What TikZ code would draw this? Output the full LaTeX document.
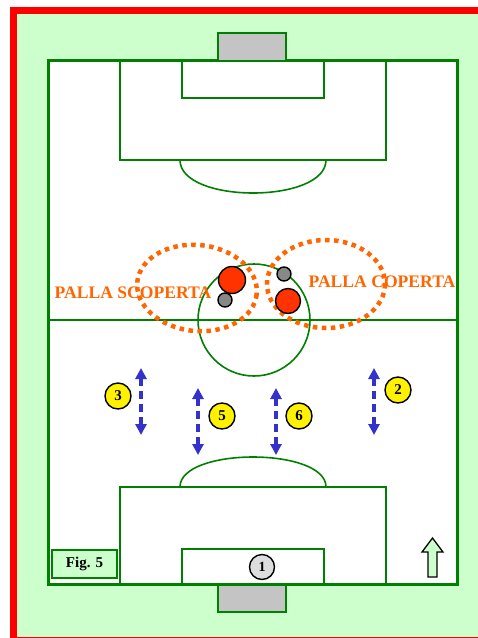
\documentclass[tikz,border=0pt]{standalone}
\usepackage{fontspec}
\setmainfont{Liberation Serif}
\usetikzlibrary{arrows.meta}
\definecolor{fieldgreen}{HTML}{008000}
\definecolor{bggreen}{HTML}{CCFFCC}
\definecolor{goalgray}{HTML}{C4C4C4}
\definecolor{frame}{HTML}{FF0000}
\definecolor{zone}{HTML}{FF6600}
\definecolor{redplayer}{HTML}{FF3300}
\definecolor{grayplayer}{HTML}{888888}
\definecolor{movblue}{HTML}{3333CC}
\definecolor{keeper}{HTML}{DDDDDD}
\tikzset{
  fieldline/.style={draw=fieldgreen, line width=1.6pt},
  goalbox/.style={draw=fieldgreen, line width=1.6pt, fill=goalgray},
  zoneline/.style={draw=zone, line width=4.5pt, dash pattern=on 4.5pt off 4.5pt},
  zonelabel/.style={text=zone, font=\bfseries\fontsize{17.6}{17.6}\selectfont, inner sep=0pt},
  mate/.style={circle, draw=black, line width=1.4pt, fill=yellow, minimum size=26pt, inner sep=0pt, font=\bfseries\fontsize{15}{15}\selectfont},
  opp/.style={circle, draw=black, line width=1.4pt, fill=redplayer, inner sep=0pt},
  ball/.style={circle, draw=black, line width=1.4pt, fill=grayplayer, inner sep=0pt, minimum size=14pt},
  move/.style={draw=movblue, line width=3.5pt, dash pattern=on 8pt off 5pt, {Triangle[width=11pt,length=11pt,fill=movblue]}-{Triangle[width=11pt,length=11pt,fill=movblue]}},
}
\begin{document}
\begin{tikzpicture}[x=1pt,y=-1pt]
\useasboundingbox (0,0) rectangle (478,638);
\fill[white] (0,0) rectangle (478,638);
\fill[bggreen] (17,14) rectangle (478,637);
\fill[frame] (10,7) rectangle (478,14);
\fill[frame] (10,7) rectangle (17,638);
\fill[frame] (17,636.7) rectangle (478,638);
% field
\draw[draw=fieldgreen, line width=3.5pt, fill=white] (48.5,60.5) rectangle (457.5,584.5);
% top half
\draw[fieldline] (120,60.5) rectangle (386,160);
\draw[fieldline] (182,60.5) rectangle (324,98);
\draw[fieldline] (180,160) .. controls (180,204) and (326,204) .. (326,160);
% bottom half
\draw[fieldline] (120,487) rectangle (386,584.5);
\draw[fieldline] (182,549) rectangle (324,584.5);
\draw[fieldline] (180,487) .. controls (180,447) and (326,447) .. (326,487);
% centre
\draw[draw=fieldgreen, line width=2.7pt] (48,320) -- (458,320);
\draw[fieldline] (254,320) circle[radius=56];
% goals
\draw[goalbox] (218,33) rectangle (286,61);
\draw[goalbox] (218,585) rectangle (286,612);
% zones
\draw[zoneline, rotate around={-6:(197,288)}] (197,288) ellipse[x radius=60, y radius=43];
\draw[zoneline] (326,284) ellipse[x radius=59, y radius=44];
\node[zonelabel] (scoperta) at (133,293) {PALLA SCOPERTA};
\node[zonelabel] (coperta) at (382,282) {PALLA COPERTA};
% opponents and balls
\node[opp, minimum size=27pt] (r1) at (232,280) {};
\node[opp, minimum size=25pt] (r2) at (288,301) {};
\node[ball] (b1) at (225,300) {};
\node[ball] (b2) at (284,274) {};
% team mates
\node[mate] (p3) at (118,396) {3};
\node[mate] (p5) at (222,416) {5};
\node[mate] (p6) at (299,416) {6};
\node[mate] (p2) at (398,390) {2};
\coordinate (a3t) at (141,368); \coordinate (a3b) at (141,435);
\coordinate (a5t) at (198,388); \coordinate (a5b) at (198,455);
\coordinate (a6t) at (276,388); \coordinate (a6b) at (276,455);
\coordinate (a2t) at (374,368); \coordinate (a2b) at (374,435);
\draw[move] (a3t) -- (a3b);
\draw[move] (a5t) -- (a5b);
\draw[move] (a6t) -- (a6b);
\draw[move] (a2t) -- (a2b);
% keeper
\node[circle, draw=black, line width=1.4pt, fill=keeper, minimum size=25pt, inner sep=0pt, font=\bfseries\fontsize{14}{14}\selectfont] (p1) at (262,567) {1};
% fig label
\node[draw=fieldgreen, line width=2pt, fill=bggreen, minimum width=65pt, minimum height=28pt, inner sep=0pt, font=\bfseries\fontsize{15}{15}\selectfont] (fig) at (84.5,564) {Fig. 5};
% direction arrow
\draw[draw=black, line width=1.3pt, fill=bggreen, line join=miter]
  (428,577) -- (428,552) -- (422,552) -- (432.5,538) -- (443,552) -- (437,552) -- (437,577) -- cycle;
\end{tikzpicture}
\end{document}
